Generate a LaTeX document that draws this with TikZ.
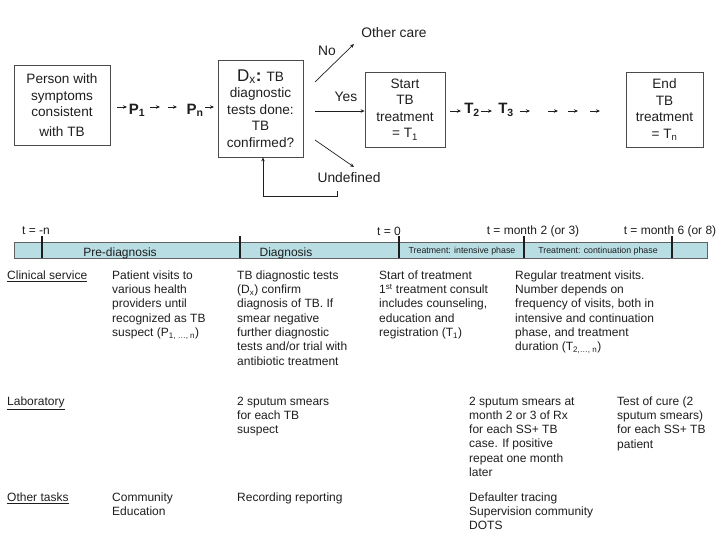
\documentclass[tikz,border=0pt]{standalone}
\usepackage{fontspec}
\setmainfont{Liberation Sans}
\usetikzlibrary{arrows.meta}
\definecolor{barfill}{RGB}{184,222,228}
\definecolor{ink}{RGB}{30,30,30}
\tikzset{
  box/.style={draw=ink!80, line width=0.8pt, align=center, inner sep=2pt, font=\fontsize{13.6}{16.5}\selectfont, text=ink},
  arr/.style={-{Stealth[length=5pt,width=4pt]}, line width=0.7pt, draw=ink},
  sarr/.style={-{Stealth[length=4pt,width=3.5pt]}, line width=0.7pt, draw=ink},
  lbl/.style={font=\fontsize{13.8}{15}\selectfont, text=ink, inner sep=1pt},
  big/.style={font=\fontsize{15}{16}\selectfont\bfseries, text=ink, inner sep=0pt},
  tick/.style={line width=2pt, draw=ink},
  tlbl/.style={font=\fontsize{12}{13}\selectfont, text=ink, inner sep=0pt},
  blbl/.style={font=\fontsize{12}{13}\selectfont, text=ink, inner sep=0pt},
  sblbl/.style={font=\fontsize{8.8}{10}\selectfont, text=ink, inner sep=0pt},
  col/.style={anchor=north west, align=left, inner sep=0pt, text=ink, font=\fontsize{12}{14.3}\selectfont},
  head/.style={anchor=north west, inner sep=0pt, text=ink, font=\fontsize{12}{14.3}\selectfont},
}
\begin{document}
\begin{tikzpicture}[x=1pt,y=-1pt]
\useasboundingbox (0,0) rectangle (720,540);

% ---- top flow ----
\node[box, minimum width=96pt, minimum height=80pt] (person) at (62,105)
  {Person with\\symptoms\\consistent\\[3pt]with TB};
\node[big] (p1) at (137,110) {P\textsubscript{1}};
\node[big] (pn) at (195,110) {P\textsubscript{n}};
\node[box, minimum width=85pt, minimum height=97pt] (dx) at (260.5,108.5)
  {{\fontsize{17}{17}\selectfont D\textsubscript{x}\textbf{:}} TB\\diagnostic\\tests done:\\TB\\confirmed?};
\node[box, minimum width=80pt, minimum height=75pt] (start) at (405,109.5)
  {Start\\TB\\treatment\\= T\textsubscript{1}};
\node[big] (t2) at (472,110) {T\textsubscript{2}};
\node[big] (t3) at (506,110) {T\textsubscript{3}};
\node[box, minimum width=77pt, minimum height=75pt] (end) at (664.5,109.5)
  {End\\TB\\treatment\\= T\textsubscript{n}};

\node[lbl] (other) at (394,33) {Other care};
\node[lbl] (undef) at (349,178) {Undefined};
\node[lbl] (no) at (327,51) {No};
\node[lbl] (yes) at (346,97) {Yes};

% short arrows along the path
\coordinate (a1) at (117,107); \coordinate (a1e) at (127,107);
\coordinate (a2) at (150,107); \coordinate (a2e) at (160,107);
\coordinate (a3) at (168,107); \coordinate (a3e) at (177,107);
\coordinate (a4) at (205,107); \coordinate (a4e) at (214,107);
\draw[sarr] (a1) -- (a1e);
\draw[sarr] (a2) -- (a2e);
\draw[sarr] (a3) -- (a3e);
\draw[sarr] (a4) -- (a4e);

\coordinate (b1) at (450,111); \coordinate (b1e) at (461,111);
\coordinate (b2) at (481,111); \coordinate (b2e) at (492,111);
\coordinate (b3) at (520,111); \coordinate (b3e) at (530,111);
\coordinate (b4) at (548,111); \coordinate (b4e) at (558,111);
\coordinate (b5) at (568,111); \coordinate (b5e) at (578,111);
\coordinate (b6) at (590,111); \coordinate (b6e) at (600,111);
\foreach \i in {1,...,6} {\draw[sarr] (b\i) -- (b\i e);}

% decision arrows
\coordinate (noS) at (315,82); \coordinate (noE) at (354,44);
\coordinate (yesS) at (315,111);
\coordinate (unS) at (315,140); \coordinate (unE) at (354,167);
\draw[sarr] (noS) -- (noE);
\draw[sarr] (yesS) -- (start.west |- yesS);
\draw[sarr] (unS) -- (unE);

% loop back
\coordinate (lp1) at (337,191);
\coordinate (lp2) at (337,196);
\draw[sarr] (lp1) -- (lp2) -| (dx.south -| 263,0);

% ---- timeline ----
\draw[draw=ink!70, fill=barfill, line width=0.6pt] (14,242) rectangle (707,258);
\foreach \x in {42,240,399,524,672} {\draw[tick] (\x,236) -- (\x,258);}
\node[tlbl] (tm1) at (36,231) {t = -n};
\node[tlbl] (tm2) at (389,231) {t = 0};
\node[tlbl] (tm3) at (533,231) {t = month 2 (or 3)};
\node[tlbl] (tm4) at (670,231) {t = month 6 (or 8)};
\node[blbl] (ph1) at (120,253) {Pre-diagnosis};
\node[blbl] (ph2) at (286,253) {Diagnosis};
\node[sblbl] (ph3) at (462,251) {Treatment: intensive phase};
\node[sblbl] (ph4) at (598,251) {Treatment: continuation phase};

% ---- table ----
\node[head] (h1) at (7,270.5) {\underline{Clinical service}};
\node[col] (c12) at (112,270.5) {Patient visits to\\various health\\providers until\\recognized as TB\\suspect (P\textsubscript{1, \ldots, n})};
\node[col] (c13) at (237,270.5) {TB diagnostic tests\\(D\textsubscript{x}) confirm\\diagnosis of TB. If\\smear negative\\further diagnostic\\tests and/or trial with\\antibiotic treatment};
\node[col] (c14) at (379,270.5) {Start of treatment\\1\textsuperscript{st} treatment consult\\includes counseling,\\education and\\registration (T\textsubscript{1})};
\node[col] (c15) at (515,270.5) {Regular treatment visits.\\Number depends on\\frequency of visits, both in\\intensive and continuation\\phase, and treatment\\duration (T\textsubscript{2,\ldots, n})};

\node[head] (h2) at (7,396.5) {\underline{Laboratory}};
\node[col] (c23) at (237,396.5) {2 sputum smears\\for each TB\\suspect};
\node[col] (c24) at (469,396.5) {2 sputum smears at\\month 2 or 3 of Rx\\for each SS+ TB\\case. If positive\\repeat one month\\later};
\node[col] (c25) at (617,396.5) {Test of cure (2\\sputum smears)\\for each SS+ TB\\patient};

\node[head] (h3) at (7,492.5) {\underline{Other tasks}};
\node[col] (c32) at (112,492.5) {Community\\Education};
\node[col] (c33) at (237,492.5) {Recording reporting};
\node[col] (c34) at (469,492.5) {Defaulter tracing\\Supervision community\\DOTS};
\end{tikzpicture}
\end{document}
